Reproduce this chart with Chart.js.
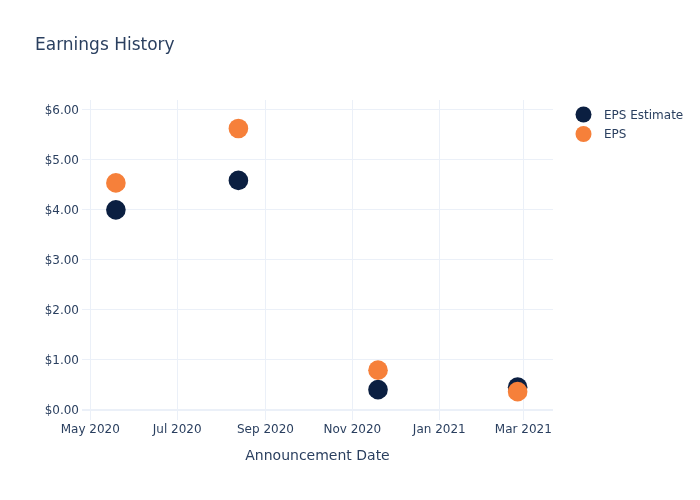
<!DOCTYPE html>
<html>
<head>
<meta charset="utf-8">
<title>Earnings History</title>
<script src="https://cdn.jsdelivr.net/npm/chart.js@4/dist/chart.umd.min.js"></script>
<style>
    body { margin: 0; background: #fff; }
    #wrap { position: relative; width: 700px; height: 500px; }
</style>
</head>
<body>
<div id="wrap"><canvas id="earningsChart" width="700" height="500"></canvas></div>
<script>
// Chart data
const announceDates = ['2020-05-19', '2020-08-13', '2020-11-19', '2021-02-25'];
const epsEstimate = [4.00, 4.59, 0.40, 0.45];
const epsActual = [4.54, 5.63, 0.79, 0.36];

const xTickDates = ['2020-05-01', '2020-07-01', '2020-09-01', '2020-11-01', '2021-01-01', '2021-03-01'];
const xTickLabels = ['May 2020', 'Jul 2020', 'Sep 2020', 'Nov 2020', 'Jan 2021', 'Mar 2021'];
const yTicks = [0, 1, 2, 3, 4, 5, 6];

const seriesNames = ['EPS Estimate', 'EPS'];
const seriesColors = ['#0b1f41', '#f6803a'];

const textColor = '#2a3f5f';
const gridColor = '#ebf0f8';
const fontFamily = '"DejaVu Sans", Verdana, sans-serif';

document.addEventListener('DOMContentLoaded', function() {
    renderEarningsChart();
});

function toPoints(values) {
    return values.map(function(v, i) {
        return { x: Date.parse(announceDates[i]), y: v };
    });
}

// Title and legend, drawn like the plotly layout
const titleLegendPlugin = {
    id: 'titleLegend',
    afterDraw: function(chart) {
        const ctx = chart.ctx;
        ctx.save();
        ctx.fillStyle = textColor;
        ctx.textBaseline = 'middle';
        ctx.textAlign = 'left';
        ctx.font = '17px ' + fontFamily;
        ctx.fillText('Earnings History', 35, 45.5);

        ctx.font = '12px ' + fontFamily;
        seriesNames.forEach(function(name, i) {
            const y = 114.5 + i * 19.5;
            ctx.beginPath();
            ctx.arc(583.5, y, 8, 0, Math.PI * 2);
            ctx.fillStyle = seriesColors[i];
            ctx.fill();
            ctx.fillStyle = textColor;
            ctx.fillText(name, 604, y + 1);
        });
        ctx.restore();
    }
};

function renderEarningsChart() {
    const ctx = document.getElementById('earningsChart').getContext('2d');

    const pointStyle = {
        showLine: false,
        pointRadius: 9.8,
        pointHoverRadius: 9.8,
        pointBorderWidth: 0,
        pointHoverBorderWidth: 0
    };

    new Chart(ctx, {
        type: 'scatter',
        data: {
            datasets: [Object.assign({
                label: seriesNames[0],
                data: toPoints(epsEstimate),
                backgroundColor: seriesColors[0],
                borderColor: seriesColors[0],
                order: 2
            }, pointStyle), Object.assign({
                label: seriesNames[1],
                data: toPoints(epsActual),
                backgroundColor: seriesColors[1],
                borderColor: seriesColors[1],
                order: 1
            }, pointStyle)]
        },
        options: {
            responsive: false,
            animation: false,
            layout: {
                padding: { top: 100, right: 147, left: 0, bottom: 0 }
            },
            plugins: {
                legend: { display: false },
                title: { display: false },
                tooltip: { enabled: false }
            },
            scales: {
                x: {
                    type: 'linear',
                    min: Date.parse('2020-04-25T05:00:00Z'),
                    max: Date.parse('2021-03-21T20:00:00Z'),
                    afterBuildTicks: function(scale) {
                        scale.ticks = xTickDates.map(function(d) { return { value: Date.parse(d) }; });
                    },
                    afterFit: function(scale) { scale.height = 80.4; },
                    border: { display: false },
                    grid: {
                        color: gridColor,
                        lineWidth: 1,
                        drawTicks: false
                    },
                    ticks: {
                        color: textColor,
                        padding: 3,
                        maxRotation: 0,
                        autoSkip: false,
                        font: { family: fontFamily, size: 12 },
                        callback: function(value) {
                            const idx = xTickDates.findIndex(function(d) { return Date.parse(d) === value; });
                            return idx >= 0 ? xTickLabels[idx] : '';
                        }
                    },
                    title: {
                        display: true,
                        text: 'Announcement Date',
                        color: textColor,
                        font: { family: fontFamily, size: 14 },
                        padding: { top: 4, bottom: 35 }
                    }
                },
                y: {
                    min: -0.2,
                    max: 6.2,
                    afterBuildTicks: function(scale) {
                        scale.ticks = yTicks.map(function(v) { return { value: v }; });
                    },
                    afterFit: function(scale) { scale.width = 82; },
                    border: { display: false },
                    grid: {
                        color: gridColor,
                        lineWidth: function(c) { return c.tick && c.tick.value === 0 ? 2 : 1; },
                        drawTicks: false
                    },
                    ticks: {
                        color: textColor,
                        padding: 3,
                        labelOffset: 1,
                        font: { family: fontFamily, size: 12 },
                        callback: function(value) {
                            return '$' + Number(value).toFixed(2);
                        }
                    }
                }
            }
        },
        plugins: [titleLegendPlugin]
    });
}
</script>
</body>
</html>
